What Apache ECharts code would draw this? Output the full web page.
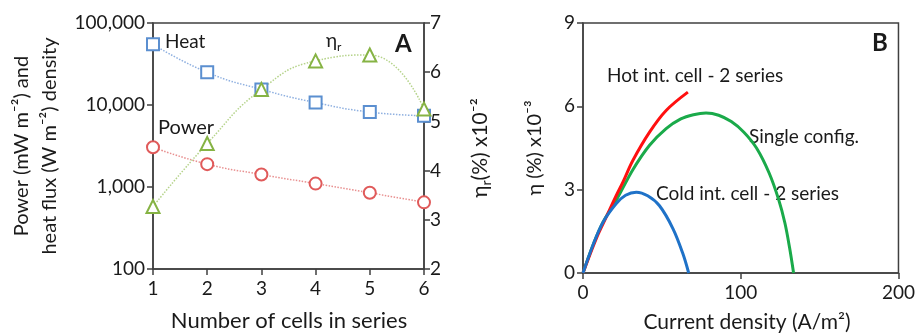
<!DOCTYPE html>
<html>
<head>
<meta charset="utf-8">
<script src="https://cdn.jsdelivr.net/npm/echarts@6/dist/echarts.min.js"></script>
<style>
  html, body { margin: 0; padding: 0; background: #fff; }
  #chart { width: 918px; height: 333px; }
</style>
</head>
<body>
<div id="chart"></div>
<script>
// panel A
const cells = [1, 2, 3, 4, 5, 6];
const heatFlux = [55000, 25000, 15500, 10700, 8200, 7400];
const power = [3050, 1900, 1420, 1100, 850, 650];
const etaR = [3.27, 4.55, 5.65, 6.23, 6.35, 5.25];

// panel B: [current density, eta]
const hotSeries = [[0, 0], [8.4, 1.24], [14.8, 2.02], [21.1, 2.79], [25.3, 3.27], [31.6, 4.05], [42.2, 5.07], [52.7, 5.85], [66.5, 6.51]];
const singleConfig = [[0, 0], [6.3, 1.0], [12.7, 1.83], [21.1, 2.62], [31.6, 3.72], [42.2, 4.6], [52.7, 5.2], [62, 5.55], [70, 5.7], [78, 5.76], [86, 5.68], [94, 5.45], [102, 5.07], [110, 4.5], [118, 3.6], [124, 2.65], [128, 1.8], [131, 0.9], [133.5, 0]];
const coldSeries = [[0, 0], [6.3, 1.0], [12.7, 1.83], [21.1, 2.5], [27, 2.8], [33.8, 2.91], [41, 2.78], [48.5, 2.42], [57, 1.6], [63.3, 0.7], [67, 0]];

const FONT = "Lato";
const axisColor = "#404040";
const textColor = "#1a1a1a";

const chart = echarts.init(document.getElementById("chart"));

const axisCommon = {
  axisLine: { show: true, lineStyle: { color: axisColor, width: 1.5 } },
  axisTick: { show: true, length: 6, lineStyle: { color: axisColor, width: 1.5 } },
  axisLabel: { color: textColor, fontSize: 19, fontFamily: FONT },
  splitLine: { show: false },
};

const txt = (text, x, y, opts = {}) => ({
  type: "text",
  x, y,
  rotation: opts.rotation || 0,
  style: {
    text,
    fill: textColor,
    fontSize: opts.size || 17,
    fontFamily: FONT,
    fontWeight: opts.bold ? "bold" : "normal",
    textAlign: opts.align || "left",
    textVerticalAlign: "middle",
    rich: opts.rich,
  },
});

// eta with subscript r
const etaRich = (size) => ({
  a: { fontSize: size, fontFamily: FONT, fill: textColor, lineHeight: size + 6, verticalAlign: "middle" },
  s: { fontSize: Math.round(size * 0.65), fontFamily: FONT, fill: textColor, lineHeight: size + 6, verticalAlign: "bottom" },
});

const option = {
  animation: false,
  backgroundColor: "#fff",
  grid: [
    { left: 153, top: 23, width: 271, height: 246, show: true, borderColor: axisColor, borderWidth: 1.5, backgroundColor: "transparent" },
    { left: 583, top: 23, width: 316, height: 250, show: true, borderColor: axisColor, borderWidth: 1.5, backgroundColor: "transparent" },
  ],
  xAxis: [
    {
      ...axisCommon,
      gridIndex: 0,
      type: "value",
      min: 1,
      max: 6,
      interval: 1,
      axisLabel: { ...axisCommon.axisLabel, margin: 10 },
    },
    {
      ...axisCommon,
      gridIndex: 1,
      type: "value",
      min: 0,
      max: 200,
      interval: 100,
      axisLabel: { ...axisCommon.axisLabel, margin: 10 },
    },
  ],
  yAxis: [
    {
      ...axisCommon,
      gridIndex: 0,
      type: "log",
      logBase: 10,
      min: 100,
      max: 100000,
      splitNumber: 3,
      axisLabel: { ...axisCommon.axisLabel, margin: 8, formatter: (v) => Number(v).toLocaleString("en-US") },
    },
    {
      ...axisCommon,
      gridIndex: 0,
      type: "value",
      position: "right",
      min: 2,
      max: 7,
      interval: 1,
      axisLabel: { ...axisCommon.axisLabel, margin: 6 },
    },
    {
      ...axisCommon,
      gridIndex: 1,
      type: "value",
      min: 0,
      max: 9,
      interval: 3,
      axisLabel: { ...axisCommon.axisLabel, margin: 8 },
    },
  ],
  series: [
    {
      name: "Heat",
      type: "line",
      xAxisIndex: 0,
      yAxisIndex: 0,
      data: cells.map((c, i) => [c, heatFlux[i]]),
      smooth: true,
      symbol: "emptyRect",
      symbolSize: 12,
      color: "#5b8fd0",
      itemStyle: { borderWidth: 1.5 },
      lineStyle: { type: "dotted", width: 1.5, color: "#8fb0e0" },
    },
    {
      name: "Power",
      type: "line",
      xAxisIndex: 0,
      yAxisIndex: 0,
      data: cells.map((c, i) => [c, power[i]]),
      smooth: true,
      symbol: "emptyCircle",
      symbolSize: 12,
      color: "#e05a5a",
      itemStyle: { borderWidth: 1.5 },
      lineStyle: { type: "dotted", width: 1.5, color: "#e89090" },
    },
    {
      name: "eta_r",
      type: "line",
      xAxisIndex: 0,
      yAxisIndex: 1,
      data: cells.map((c, i) => [c, etaR[i]]),
      smooth: true,
      symbol: "emptyTriangle",
      symbolSize: 13,
      color: "#86b344",
      itemStyle: { borderWidth: 1.5 },
      lineStyle: { type: "dotted", width: 1.5, color: "#b5d38a" },
    },
    {
      name: "Single config.",
      type: "line",
      xAxisIndex: 1,
      yAxisIndex: 2,
      data: singleConfig,
      smooth: 0.35,
      showSymbol: false,
      lineStyle: { width: 3, color: "#1aaa4a" },
    },
    {
      name: "Hot int. cell - 2 series",
      type: "line",
      xAxisIndex: 1,
      yAxisIndex: 2,
      data: hotSeries,
      smooth: 0.35,
      showSymbol: false,
      lineStyle: { width: 3, color: "#ff1010" },
    },
    {
      name: "Cold int. cell - 2 series",
      type: "line",
      xAxisIndex: 1,
      yAxisIndex: 2,
      data: coldSeries,
      smooth: 0.35,
      showSymbol: false,
      lineStyle: { width: 3, color: "#1f72c8" },
    },
  ],
  graphic: [
    txt("Power (mW m\u207B\u00B2) and", 22, 146, { rotation: Math.PI / 2, align: "center", size: 20 }),
    txt("heat flux (W m\u207B\u00B2) density", 50, 146, { rotation: Math.PI / 2, align: "center", size: 20 }),
    txt("Number of cells in series", 289, 321, { align: "center", size: 22 }),
    txt("{a|\u03B7}{s|r}{a|(%) x10\u207B\u00B2}", 480, 148, { rotation: Math.PI / 2, align: "center", size: 21, rich: etaRich(21) }),
    txt("\u03B7 (%) x10\u207B\u00B3", 535, 148, { rotation: Math.PI / 2, align: "center", size: 20 }),
    txt("Current density (A/m\u00B2)", 747, 322, { align: "center", size: 21 }),
    txt("Heat", 165, 42, { size: 19 }),
    txt("Power", 158, 128, { size: 20 }),
    txt("{a|\u03B7}{s|r}", 326, 41, { size: 19, rich: etaRich(19) }),
    txt("A", 395, 44, { size: 24, bold: true }),
    txt("B", 872, 43, { size: 24, bold: true }),
    txt("Hot int. cell - 2 series", 607, 76, { size: 19 }),
    txt("Single config.", 749, 137, { size: 19 }),
    txt("Cold int. cell - 2 series", 656, 194, { size: 19 }),
  ],
};

chart.setOption(option);
</script>
</body>
</html>
